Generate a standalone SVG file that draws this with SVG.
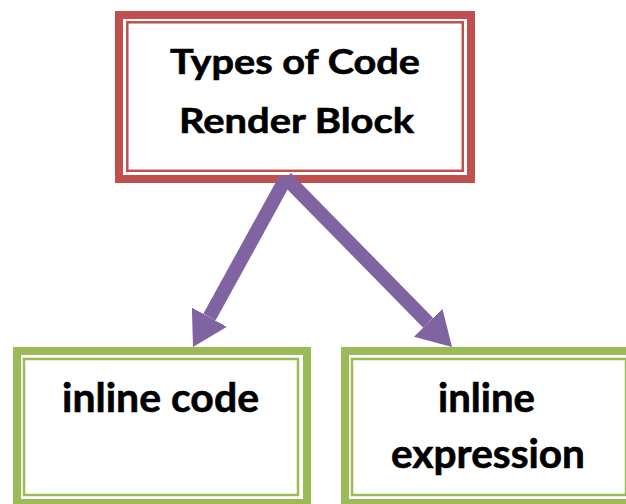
<svg xmlns="http://www.w3.org/2000/svg" width="626" height="504" viewBox="0 0 626 504">
  <style>
    .bg { fill: #ffffff; }
    .red-thick { fill: #ffffff; stroke: #C0504D; stroke-width: 8; }
    .red-thin { fill: none; stroke: #C0504D; stroke-width: 2.5; }
    .green-thick { fill: #ffffff; stroke: #9BBB59; stroke-width: 8; }
    .green-thin { fill: none; stroke: #9BBB59; stroke-width: 2.5; }
    .label { font-family: Lato, "Liberation Sans", "DejaVu Sans", sans-serif; font-weight: bold; fill: #000000; stroke: #000000; stroke-width: 0.6; }
    .top { font-size: 34px; }
    .bot { font-size: 40px; }
    .conn { stroke: #8064A2; stroke-width: 14; stroke-linecap: butt; fill: none; }
  </style>
  <defs>
    <marker id="head" markerUnits="userSpaceOnUse" viewBox="0 0 34 40" markerWidth="34" markerHeight="40" refX="0" refY="20" orient="auto">
      <path d="M0,0 L34,20 L0,40 Z" fill="#8064A2"/>
    </marker>
  </defs>
  <rect class="bg" x="0" y="0" width="626" height="504"/>

  <g id="node-types">
    <rect class="red-thick" x="119" y="15" width="352" height="164"/>
    <rect class="red-thin" x="127.3" y="22.3" width="335.5" height="148.5"/>
    <text class="label top" x="170" y="74" textLength="250" lengthAdjust="spacingAndGlyphs">Types of Code</text>
    <text class="label top" x="179" y="133" textLength="235" lengthAdjust="spacingAndGlyphs">Render Block</text>
  </g>

  <g id="node-inline-code">
    <rect class="green-thick" x="17" y="351" width="290" height="152"/>
    <rect class="green-thin" x="24" y="359" width="274" height="136"/>
    <text class="label bot" x="62" y="412" textLength="197" lengthAdjust="spacingAndGlyphs">inline code</text>
  </g>

  <g id="node-inline-expression">
    <rect class="green-thick" x="345" y="351" width="290" height="152"/>
    <rect class="green-thin" x="352" y="359" width="274" height="136"/>
    <text class="label bot" x="438" y="412" textLength="97" lengthAdjust="spacingAndGlyphs">inline</text>
    <text class="label bot" x="391" y="468" textLength="194" lengthAdjust="spacingAndGlyphs">expression</text>
  </g>

  <g id="connectors">
    <line class="conn" x1="286" y1="178" x2="209.4" y2="317.2" marker-end="url(#head)"/>
    <line class="conn" x1="286" y1="178" x2="428.2" y2="322.8" marker-end="url(#head)"/>
  </g>
</svg>
